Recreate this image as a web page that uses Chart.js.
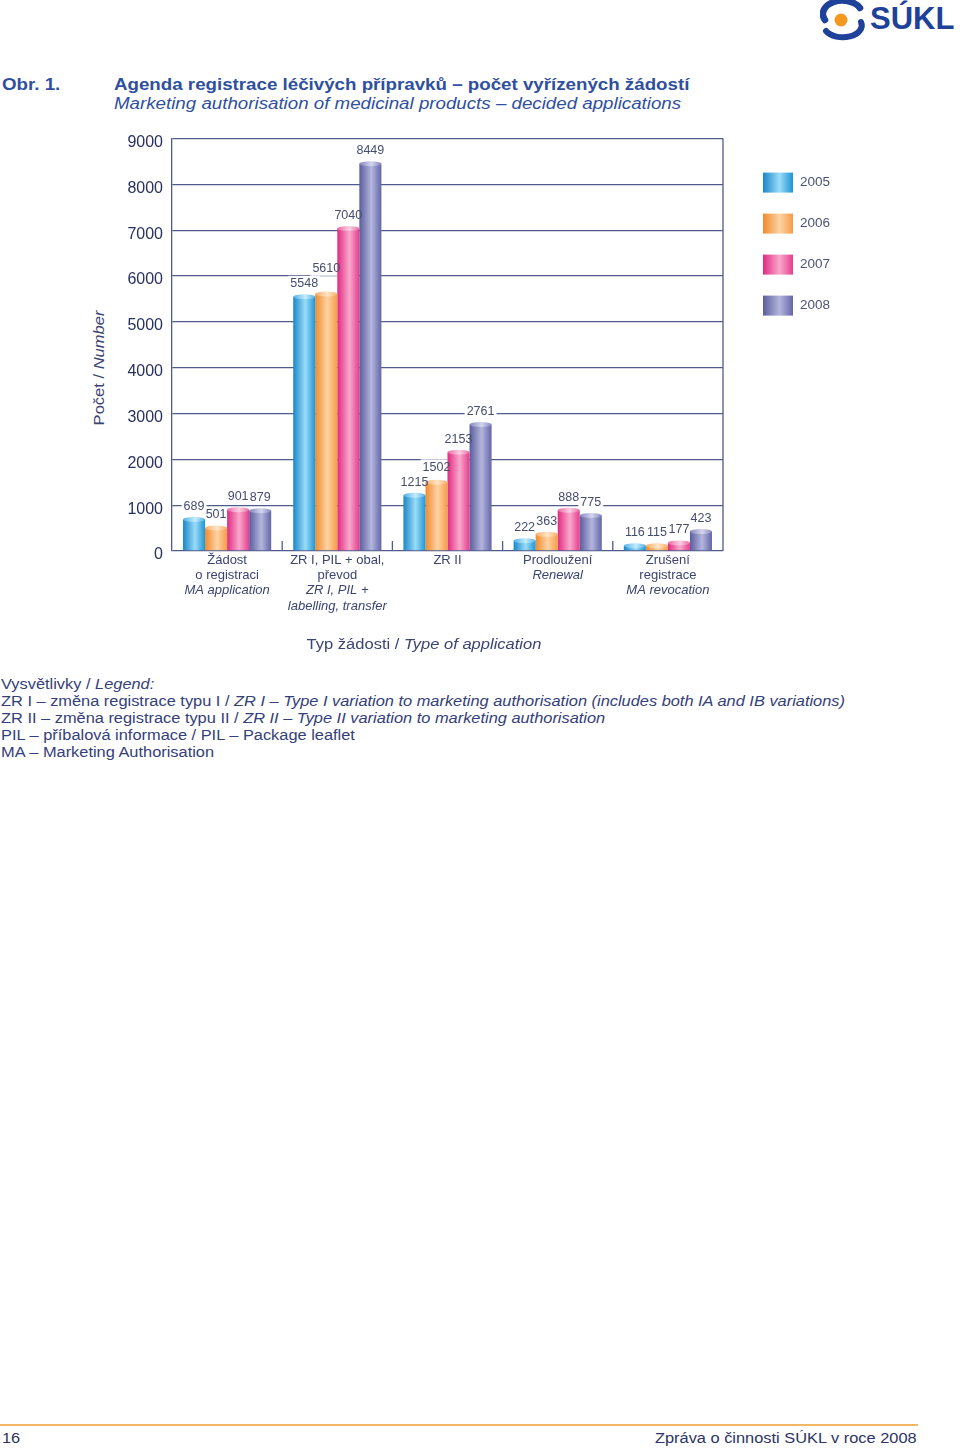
<!DOCTYPE html>
<html>
<head>
<meta charset="utf-8">
<script src="https://cdn.jsdelivr.net/npm/chart.js@4.4.1/dist/chart.umd.min.js"></script>
<style>
    body { margin: 0; width: 960px; height: 1450px; position: relative; background: #fff;
           font-family: "Liberation Sans", Arial, sans-serif; color: #2b3462; }
    .abs { position: absolute; white-space: nowrap; }
    .wide { transform-origin: left center; transform: scaleX(1.17); }
    .head { font-size: 16px; line-height: 18px; color: #2f4f9f; }
    .note { font-size: 14px; line-height: 17px; color: #34407a; }
    #chart-box { position: absolute; left: 0; top: 120px; width: 960px; height: 540px; }
</style>
</head>
<body>
<svg class="abs" style="left:820px;top:0px" width="48" height="42" viewBox="0 0 48 42">
    <path d="M40 8 A19 13 0 0 0 5 20" fill="none" stroke="#1e4299" stroke-width="6.5" stroke-linecap="round"/>
    <path d="M6 31 A19 12 0 0 0 41 22" fill="none" stroke="#1e4299" stroke-width="6" stroke-linecap="round"/>
    <circle cx="21" cy="20" r="6.5" fill="#f39a1e"/>
</svg>
<div class="abs" style="left:870px;top:1px;font-size:31px;line-height:36px;font-weight:bold;color:#1e4299">SÚKL</div>

<div class="abs head wide" style="left:2px;top:76px;font-weight:bold">Obr. 1.</div>
<div class="abs head wide" style="left:114px;top:76px;font-weight:bold">Agenda registrace léčivých přípravků – počet vyřízených žádostí</div>
<div class="abs head wide" style="left:114px;top:95px;font-style:italic">Marketing authorisation of medicinal products – decided applications</div>

<div class="abs" style="left:99px;top:368px;font-size:14px;line-height:16px;transform:translate(-50%,-50%) rotate(-90deg) scaleX(1.18);color:#3b4472">Počet / <i>Number</i></div>

<div id="chart-box"><canvas id="chart" width="960" height="540"></canvas></div>

<div class="abs" style="left:424px;top:636px;font-size:14px;line-height:16px;transform:translateX(-50%) scaleX(1.18);color:#3b4472">Typ žádosti / <i>Type of application</i></div>

<div class="abs note wide" style="left:1px;top:676px">Vysvětlivky / <i>Legend:</i></div>
<div class="abs note wide" style="left:1px;top:693px">ZR I – změna registrace typu I / <i>ZR I – Type I variation to marketing authorisation (includes both IA and IB variations)</i></div>
<div class="abs note wide" style="left:1px;top:710px">ZR II – změna registrace typu II / <i>ZR II – Type II variation to marketing authorisation</i></div>
<div class="abs note wide" style="left:1px;top:727px">PIL – příbalová informace / PIL – Package leaflet</div>
<div class="abs note wide" style="left:1px;top:744px">MA – Marketing Authorisation</div>

<div class="abs" style="left:0;top:1424px;width:918px;height:1.5px;background:#f3b765"></div>
<div class="abs wide" style="left:2px;top:1430px;font-size:14px;line-height:17px">16</div>
<div class="abs" style="right:43px;top:1430px;font-size:14px;line-height:17px;transform-origin:right center;transform:scaleX(1.17)">Zpráva o činnosti SÚKL v roce 2008</div>

<script>
document.addEventListener('DOMContentLoaded', () => {
    // category label lines: [text, italic]
    const categoryLines = [
        [['Žádost', false], ['o registraci', false], ['MA application', true]],
        [['ZR I, PIL + obal,', false], ['převod', false], ['ZR I, PIL +', true], ['labelling, transfer', true]],
        [['ZR II', false]],
        [['Prodloužení', false], ['Renewal', true]],
        [['Zrušení', false], ['registrace', false], ['MA revocation', true]]
    ];
    const categories = categoryLines.map(lines => lines.map(l => l[0]).join(' '));
    const years = ['2005', '2006', '2007', '2008'];
    const values2005 = [689, 5548, 1215, 222, 116];
    const values2006 = [501, 5610, 1502, 363, 115];
    const values2007 = [901, 7040, 2153, 888, 177];
    const values2008 = [879, 8449, 2761, 775, 423];
    const yMax = 9000;
    const yStep = 1000;

    const fontFamily = '"Liberation Sans", Arial, sans-serif';
    const frameColor = '#4f5c8c';
    const textColor = '#3b4472';
    // dark edge, light middle, dark edge
    const barShades = [
        ['#1a86c8', '#9adcf8', '#1e95d4'],
        ['#f08a2c', '#fdd3a4', '#f59c45'],
        ['#e02a80', '#f9a8cc', '#e63d8c'],
        ['#5a5d9c', '#b4b6de', '#6366a6']
    ];
    const capShades = [
        ['#4fb2e6', '#c6ecfb', '#4fb2e6'],
        ['#f6ae66', '#fee5c8', '#f6ae66'],
        ['#ec6aa6', '#fcd0e4', '#ec6aa6'],
        ['#8487bd', '#d4d5ee', '#8487bd']
    ];

    function cylinder(ctx, x0, x1, stops) {
        const g = ctx.createLinearGradient(x0, 0, x1, 0);
        g.addColorStop(0, stops[0]);
        g.addColorStop(0.55, stops[1]);
        g.addColorStop(1, stops[2]);
        return g;
    }

    const labelFont = '12.5px ' + fontFamily;

    // value label boxes, pushed up when they would collide inside a group
    function labelBoxes(chart) {
        const ctx = chart.ctx;
        ctx.save();
        ctx.font = labelFont;
        const boxes = [];
        categories.forEach((c, i) => {
            const placed = [];
            chart.data.datasets.forEach((ds, di) => {
                const bar = chart.getDatasetMeta(di).data[i];
                const text = String(ds.data[i]);
                const w = ctx.measureText(text).width;
                const box = { text, x: bar.x, y: bar.y - 13, w };
                let moved = true;
                while (moved) {
                    moved = false;
                    placed.forEach(p => {
                        if (Math.abs(p.x - box.x) < (p.w + box.w) / 2 + 1 && Math.abs(p.y - box.y) < 14) {
                            box.y = p.y - 15;
                            moved = true;
                        }
                    });
                }
                placed.push(box);
                boxes.push(box);
            });
        });
        ctx.restore();
        return boxes;
    }

    const barLook = {
        id: 'barLook',
        beforeDatasetsDraw(chart) {
            const ctx = chart.ctx;
            chart.data.datasets.forEach((ds, di) => {
                chart.getDatasetMeta(di).data.forEach(bar => {
                    bar.options.backgroundColor = cylinder(ctx, bar.x - bar.width / 2, bar.x + bar.width / 2, barShades[di]);
                });
            });
            chart.$labelBoxes = labelBoxes(chart);
            ctx.save();
            ctx.fillStyle = '#ffffff';
            chart.$labelBoxes.forEach(b => {
                ctx.fillRect(b.x - b.w / 2 - 2, b.y - 8, b.w + 4, 15);
            });
            ctx.restore();
        },
        afterDatasetsDraw(chart) {
            const ctx = chart.ctx;
            const area = chart.chartArea;
            const xScale = chart.scales.x;
            ctx.save();
            // caps
            chart.data.datasets.forEach((ds, di) => {
                chart.getDatasetMeta(di).data.forEach(bar => {
                    ctx.beginPath();
                    ctx.ellipse(bar.x, bar.y, bar.width / 2, 2.5, 0, 0, Math.PI * 2);
                    ctx.fillStyle = cylinder(ctx, bar.x - bar.width / 2, bar.x + bar.width / 2, capShades[di]);
                    ctx.fill();
                });
            });
            // values
            ctx.font = labelFont;
            ctx.fillStyle = '#454d6e';
            ctx.textAlign = 'center';
            ctx.textBaseline = 'middle';
            chart.$labelBoxes.forEach(b => ctx.fillText(b.text, b.x, b.y));
            // right frame and inner ticks between categories
            ctx.strokeStyle = frameColor;
            ctx.lineWidth = 1.3;
            ctx.beginPath();
            ctx.moveTo(area.right, area.top);
            ctx.lineTo(area.right, area.bottom);
            for (let i = 1; i < categories.length; i++) {
                const x = (xScale.getPixelForValue(i - 1) + xScale.getPixelForValue(i)) / 2;
                ctx.moveTo(x, area.bottom - 10);
                ctx.lineTo(x, area.bottom);
            }
            ctx.stroke();
            ctx.restore();
        },
        afterDraw(chart) {
            const ctx = chart.ctx;
            const area = chart.chartArea;
            const xScale = chart.scales.x;
            ctx.save();
            ctx.fillStyle = textColor;
            ctx.textAlign = 'center';
            ctx.textBaseline = 'middle';
            categoryLines.forEach((lines, i) => {
                const x = xScale.getPixelForValue(i);
                lines.forEach((line, j) => {
                    ctx.font = (line[1] ? 'italic ' : '') + '13px ' + fontFamily;
                    ctx.fillText(line[0], x, area.bottom + 9 + j * 15.3);
                });
            });
            // legend
            ctx.textAlign = 'left';
            ctx.font = '13.5px ' + fontFamily;
            years.forEach((year, i) => {
                const x = area.right + 40;
                const y = area.top + 44 + i * 41;
                ctx.fillStyle = cylinder(ctx, x, x + 30, barShades[i]);
                ctx.fillRect(x, y - 10, 30, 20);
                ctx.fillStyle = '#4a5278';
                ctx.fillText(year, x + 37, y);
            });
            ctx.restore();
        }
    };

    const seriesValues = [values2005, values2006, values2007, values2008];

    new Chart(document.getElementById('chart').getContext('2d'), {
        type: 'bar',
        data: {
            labels: categories,
            datasets: years.map((year, i) => ({
                label: year,
                data: seriesValues[i],
                backgroundColor: () => barShades[i][0],
                borderWidth: 0,
                barPercentage: 1,
                categoryPercentage: 0.8
            }))
        },
        options: {
            responsive: false,
            animation: false,
            layout: { padding: { left: 0, right: 237, top: 17, bottom: 109 } },
            plugins: {
                legend: { display: false },
                tooltip: { enabled: false }
            },
            scales: {
                x: {
                    grid: { display: false },
                    border: { display: false },
                    ticks: { display: false },
                    afterFit: scale => { scale.height = 0; }
                },
                y: {
                    min: 0,
                    max: yMax,
                    ticks: {
                        stepSize: yStep,
                        padding: 9,
                        labelOffset: 4,
                        color: '#27305e',
                        font: { size: 16, family: fontFamily },
                        callback: value => String(value)
                    },
                    grid: { color: frameColor, lineWidth: 1.3, drawTicks: false },
                    border: { color: frameColor, width: 1.3 },
                    afterFit: scale => { scale.width = 172; }
                }
            }
        },
        plugins: [barLook]
    });
});
</script>
</body>
</html>
